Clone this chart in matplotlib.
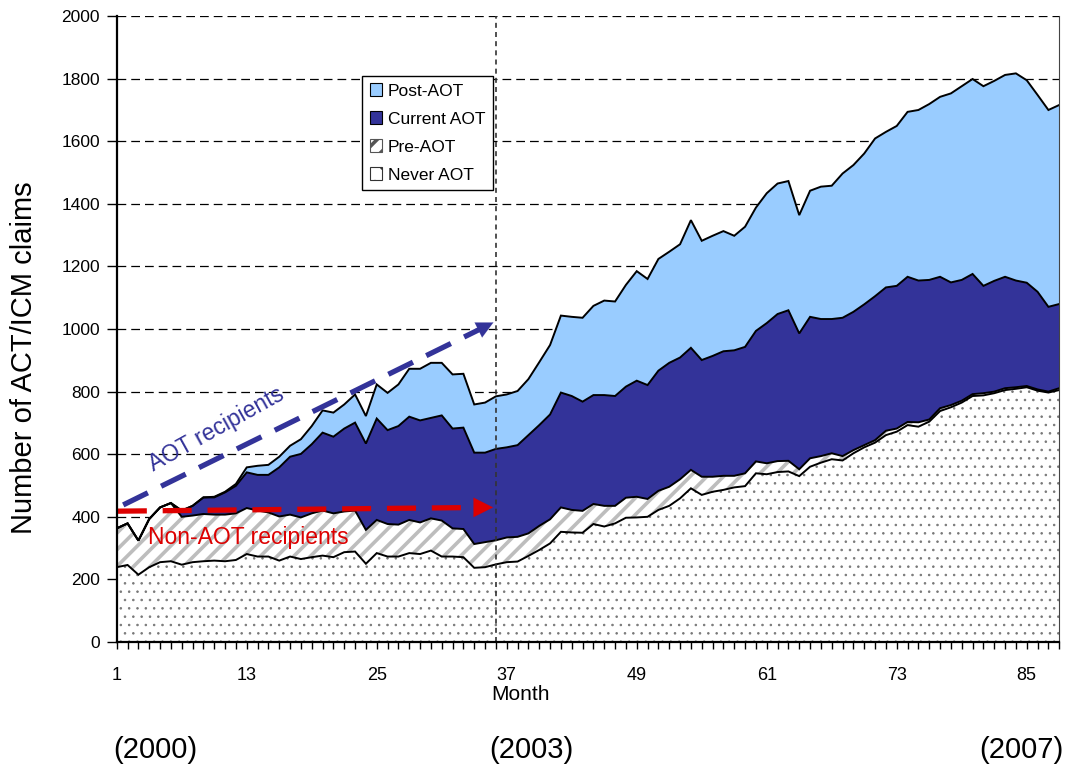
import numpy as np
import matplotlib
matplotlib.use('Agg')
import matplotlib.pyplot as plt
from matplotlib.patches import Patch

# ---------------- data ----------------
months = list(range(1, 89))

never_aot = [239, 246, 215, 239, 255, 258, 247, 255, 258, 260, 258, 262, 281, 273, 273, 260,
             273, 265, 271, 276, 271, 287, 289, 250, 284, 273, 273, 284, 281, 292, 273, 273,
             271, 237, 239, 248, 255, 257, 275, 294, 315, 352, 350, 349, 377, 369, 379, 397,
             398, 400, 422, 435, 459, 491, 470, 480, 486, 494, 498, 539, 536, 543, 545, 530,
             560, 573, 584, 580, 603, 622, 637, 661, 672, 693, 688, 704, 738, 750, 765, 786,
             788, 795, 805, 809, 814, 803, 797, 805]

pre_aot = [124, 133, 109, 154, 175, 186, 153, 149, 151, 147, 149, 149, 147, 147, 141, 141,
           134, 133, 140, 144, 140, 130, 131, 108, 106, 104, 102, 106, 101, 103, 115, 90,
           90, 76, 80, 77, 79, 79, 72, 77, 77, 78, 72, 70, 64, 66, 56, 64,
           66, 57, 61, 61, 61, 59, 58, 48, 45, 37, 41, 38, 35, 35, 34, 22,
           27, 21, 19, 14, 10, 7, 8, 14, 10, 10, 14, 7, 9, 7, 6, 6,
           7, 5, 6, 5, 4, 4, 3, 6]

current_aot = [0, 0, 0, 0, 0, 0, 20, 31, 53, 55, 71, 88, 114, 114, 120, 157,
               185, 203, 221, 249, 245, 265, 281, 276, 324, 300, 315, 330, 326, 321, 336, 319,
               324, 292, 286, 292, 288, 293, 314, 322, 335, 367, 364, 349, 348, 354, 351, 355,
               371, 364, 384, 396, 389, 390, 373, 386, 398, 401, 404, 417, 448, 470, 481, 434,
               452, 438, 429, 442, 442, 450, 460, 458, 456, 464, 453, 446, 420, 392, 386, 384,
               343, 354, 356, 341, 330, 312, 271, 269]

post_aot = [0, 0, 0, 0, 0, 0, 0, 0, 0, 2, 2, 6, 16, 29, 32, 34,
            35, 47, 58, 71, 77, 77, 90, 88, 109, 119, 133, 153, 165, 176, 168, 173,
            172, 154, 160, 168, 169, 173, 179, 201, 222, 246, 253, 268, 285, 302, 302, 325,
            350, 339, 357, 355, 362, 408, 381, 384, 384, 366, 384, 394, 415, 417, 413, 378,
            403, 423, 426, 461, 469, 482, 504, 497, 511, 527, 545, 562, 575, 604, 619, 623,
            638, 639, 645, 662, 647, 629, 629, 636]

y_ticks = list(range(0, 2001, 200))
x_tick_labels = [1, 13, 25, 37, 49, 61, 73, 85]
year_labels = ['(2000)', '(2003)', '(2007)']
year_positions = [4.6, 39.3, 84.5]

# annotation arrows (month, claims)
aot_arrow_start = (1.6, 438)
aot_arrow_end = (36.0, 1025)
non_aot_arrow_start = (1.1, 418)
non_aot_arrow_end = (36.0, 430)
reference_month = 36

# ---------------- style ----------------
plt.rcParams['font.family'] = ['Liberation Sans', 'DejaVu Sans']
c_post = '#99CCFF'
c_current = '#333399'
c_red = '#DD0000'

fig = plt.figure(figsize=(10.68, 7.67), dpi=100)
ax = fig.add_axes([0.1093, 0.163, 0.8825, 0.816])

x = np.array(months)
n = np.array(never_aot)
p = np.array(pre_aot)
c = np.array(current_aot)
q = np.array(post_aot)
b1 = n
b2 = n + p
b3 = b2 + c
b4 = b3 + q

# grid
for yv in y_ticks[1:]:
    ax.axhline(yv, color='black', lw=0.9, ls=(0, (7, 4)), zorder=0.5)

# layers
plt.rcParams['hatch.linewidth'] = 0.6
ax.fill_between(x, 0, b1, facecolor='white', edgecolor='#777777', hatch='..', lw=0, zorder=1)
plt.rcParams['hatch.linewidth'] = 2.6
ax.fill_between(x, b1, b2, facecolor='white', edgecolor='#BDBDBD', hatch='//', lw=0, zorder=1)
ax.fill_between(x, b2, b3, facecolor=c_current, lw=0, zorder=1)
ax.fill_between(x, b3, b4, facecolor=c_post, lw=0, zorder=1)

for yy in (b1, b2, b3, b4):
    ax.plot(x, yy, color='black', lw=1.4, zorder=2, solid_joinstyle='miter')

# vertical reference line
ax.axvline(reference_month, color='#333333', lw=1.2, ls=(0, (3, 2.5)), zorder=3)

# arrows
ax.plot([aot_arrow_start[0], aot_arrow_end[0] - 0.8],
        [aot_arrow_start[1], aot_arrow_end[1] - 14],
        color=c_current, lw=3.8, ls=(0, (5.2, 2.8)), zorder=4, solid_capstyle='butt')
ax.annotate('', xy=aot_arrow_end, xytext=(aot_arrow_end[0] - 1.5, aot_arrow_end[1] - 26),
            arrowprops=dict(arrowstyle='-|>,head_length=0.6,head_width=0.3', color=c_current,
                            lw=0.1, mutation_scale=20), zorder=4)
ax.plot([non_aot_arrow_start[0], non_aot_arrow_end[0] - 1.0],
        [non_aot_arrow_start[1], non_aot_arrow_end[1]],
        color=c_red, lw=3.8, ls=(0, (5.5, 3.0)), zorder=4)
ax.annotate('', xy=non_aot_arrow_end, xytext=(non_aot_arrow_end[0] - 1.8, non_aot_arrow_end[1]),
            arrowprops=dict(arrowstyle='-|>,head_length=0.7,head_width=0.35', color=c_red,
                            lw=0.1, mutation_scale=20), zorder=4)

ax.text(10.2, 680, 'AOT recipients', color=c_current, fontsize=16.5, rotation=29,
        ha='center', va='center', rotation_mode='anchor', zorder=5)
ax.text(3.9, 335, 'Non-AOT recipients', color=c_red, fontsize=16.5,
        ha='left', va='center', zorder=5)

# axes
ax.set_xlim(1, 88)
ax.set_ylim(0, 2000)
ax.set_yticks(y_ticks)
ax.set_yticklabels([str(v) for v in y_ticks], fontsize=12.5)
ax.set_xticks(months)
ax.set_xticklabels([str(m) if m in x_tick_labels else '' for m in months], fontsize=13)
ax.tick_params(axis='x', length=5, width=1, direction='out', pad=13)
ax.tick_params(axis='y', length=7, width=1, direction='out', pad=5)
ax.spines['left'].set_linewidth(1.6)
ax.spines['bottom'].set_linewidth(1.6)
ax.spines['top'].set_visible(False)
ax.spines['right'].set_linewidth(0.8)
ax.spines['right'].set_color('#444444')
for s in ax.spines.values():
    s.set_zorder(6)

ax.set_ylabel('Number of ACT/ICM claims', fontsize=21)
ax.yaxis.set_label_coords(-0.084, 0.455)
ax.text(38.3, -0.084, 'Month', transform=ax.get_xaxis_transform(), fontsize=15,
        ha='center', va='center')
for lab, pos in zip(year_labels, year_positions):
    ax.text(pos, -0.173, lab, transform=ax.get_xaxis_transform(), fontsize=21,
            ha='center', va='center')

handles = [Patch(facecolor=c_post, edgecolor='black', lw=0.8),
           Patch(facecolor=c_current, edgecolor='black', lw=0.8),
           Patch(facecolor='white', edgecolor='#555555', lw=0.8, hatch='//'),
           Patch(facecolor='white', edgecolor='#333333', lw=0.8, hatch='.')]
leg = ax.legend(handles, ['Post-AOT', 'Current AOT', 'Pre-AOT', 'Never AOT'],
                loc='upper left', bbox_to_anchor=(0.26, 0.905), borderaxespad=0,
                fontsize=12.5, frameon=True, fancybox=False, framealpha=1,
                edgecolor='black', handlelength=0.7, handleheight=0.7,
                handletextpad=0.35, labelspacing=0.74, borderpad=0.45)
leg.get_frame().set_linewidth(1.0)
leg.set_zorder(7)

fig.savefig('out.png', dpi=100)
